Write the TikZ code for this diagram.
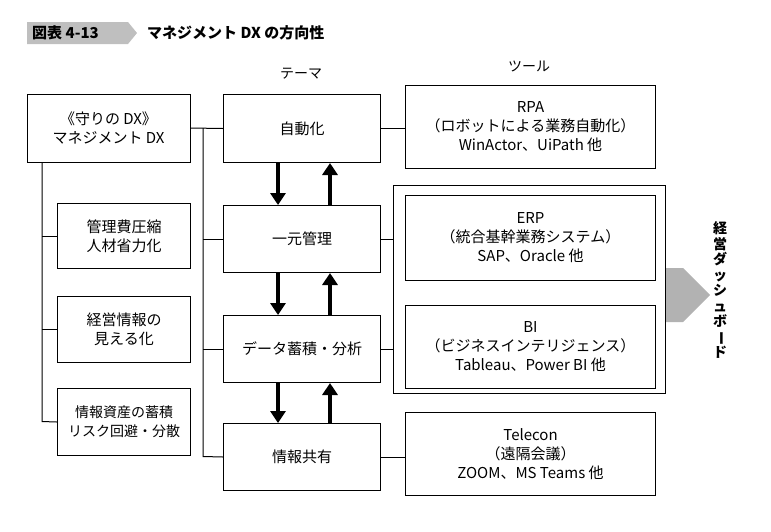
\documentclass[tikz,border=0pt]{standalone}
\usepackage{fontspec}
\setmainfont{Noto Sans CJK JP}
\usetikzlibrary{shapes.arrows,arrows.meta}
\begin{document}
\begin{tikzpicture}[x=1pt,y=-1pt,
  box/.style={draw,line width=1pt,fill=white,align=center,inner sep=0,font=\fontsize{15}{19}\selectfont},
  ln/.style={line width=1pt},
  ar/.style={line width=3.2pt,-{Triangle[length=12pt,width=15pt]}}]
\useasboundingbox (0,0) rectangle (771,531);
% title
\fill[gray!50] (27,22) -- (128,22) -- (137,33) -- (128,44) -- (27,44) -- cycle;
\node[anchor=west,font=\bfseries\fontsize{15}{16}\selectfont,inner sep=0] (t1) at (32,33) {図表 4-13};
\node[anchor=west,font=\bfseries\fontsize{15}{16}\selectfont,inner sep=0] (t2) at (147,33) {マネジメント DX の方向性};
\node[font=\fontsize{14}{16}\selectfont] (h1) at (301,74) {テーマ};
\node[font=\fontsize{14}{16}\selectfont] (h2) at (529,66) {ツール};
% left
\node[box,minimum width=163,minimum height=68] (L) at (108.5,128) {《守りの DX》\\マネジメント DX};
\node[box,minimum width=133,minimum height=65,anchor=north west] (L1) at (57,203) {管理費圧縮\\人材省力化};
\node[box,minimum width=133,minimum height=66,anchor=north west] (L2) at (57,296) {経営情報の\\見える化};
\node[box,minimum width=133,minimum height=67,anchor=north west,font=\fontsize{14}{19}\selectfont] (L3) at (57,388) {情報資産の蓄積\\リスク回避・分散};
\coordinate (lt) at (42,162);
\coordinate (lb) at (42,421.5);
\draw[ln] (lt) -- (lb) -- (L3.west);
\draw[ln] (L1.west) -- (L1.west -| lt);
\draw[ln] (L2.west) -- (L2.west -| lt);
% themes
\node[box,minimum width=157,minimum height=68,anchor=north west] (T1) at (223,94) {自動化};
\node[box,minimum width=157,minimum height=67,anchor=north west] (T2) at (223,205) {一元管理};
\node[box,minimum width=157,minimum height=67,anchor=north west] (T3) at (223,315) {データ蓄積・分析};
\node[box,minimum width=157,minimum height=67,anchor=north west] (T4) at (223,423) {情報共有};
\coordinate (vt) at (203,128);
\coordinate (vb) at (203,456.5);
\draw[ln] (L.east) -- (T1.west);
\draw[ln] (vt) -- (vb) -- (T4.west);
\draw[ln] (T2.west) -- (T2.west -| vt);
\draw[ln] (T3.west) -- (T3.west -| vt);
\foreach \a/\b in {T1/T2,T2/T3,T3/T4}{
  \draw[ar] ([xshift=-24pt]\a.south) -- ([xshift=-24pt]\b.north);
  \draw[ar] ([xshift=28pt]\b.north) -- ([xshift=28pt]\a.south);
}
% tools
\node[draw,line width=1pt,minimum width=272,minimum height=208,anchor=north west,inner sep=0] (G) at (393,185) {};
\node[box,minimum width=250,minimum height=83,anchor=north west] (R1) at (405,85) {RPA\\（ロボットによる業務自動化）\\WinActor、UiPath 他};
\node[box,minimum width=250,minimum height=85,anchor=north west] (R2) at (405,195) {ERP\\（統合基幹業務システム）\\SAP、Oracle 他};
\node[box,minimum width=250,minimum height=83,anchor=north west] (R3) at (405,305) {BI\\（ビジネスインテリジェンス）\\Tableau、Power BI 他};
\node[box,minimum width=250,minimum height=83,anchor=north west] (R4) at (405,412) {Telecon\\（遠隔会議）\\ZOOM、MS Teams 他};
\draw[ln] (T1.east) -- (T1.east -| R1.west);
\draw[ln] (T2.east) -- (T2.east -| G.west);
\draw[ln] (T3.east) -- (T3.east -| G.west);
\draw[ln] (T4.east) -- (T4.east -| R4.west);
\node[single arrow,fill=gray!60,minimum height=44,minimum width=54,single arrow head extend=0pt,single arrow tip angle=90,inner sep=0,anchor=west] (A) at (666,295) {};
\node[font=\bfseries\fontsize{14}{15.5}\selectfont,align=center,inner sep=0] (V) at (720,290) {経\\営\\ダ\\ッ\\シ\\ュ\\ボ\\\rotatebox[origin=c]{-90}{ー}\\ド};
\end{tikzpicture}
\end{document}
